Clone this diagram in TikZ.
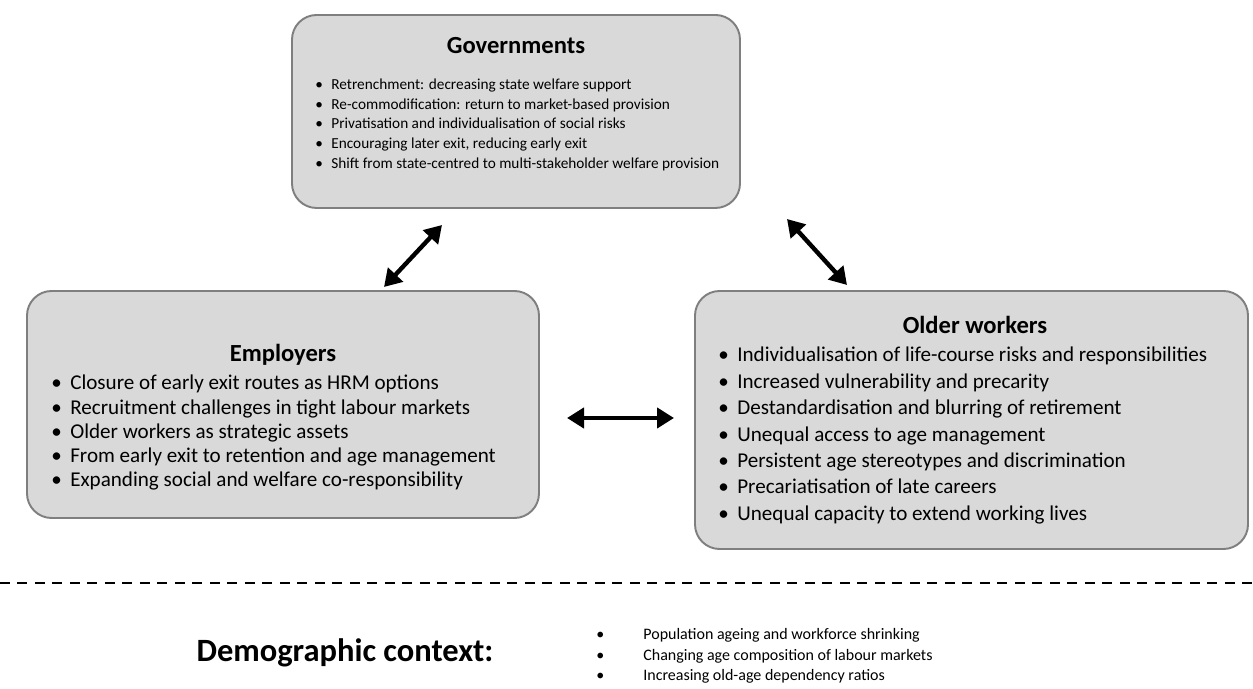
\documentclass[tikz,border=0pt]{standalone}
\usepackage{fontspec}
\setmainfont{Carlito}
\usetikzlibrary{arrows.meta}
\definecolor{PanelFill}{HTML}{D9D9D9}
\definecolor{PanelEdge}{HTML}{7F7F7F}
\newcommand{\bul}[1][1.05em]{\makebox[#1][l]{\textbullet}}
\tikzset{
    panel/.style={rectangle, rounded corners=14pt, fill=PanelFill,
                  draw=PanelEdge, line width=1.1pt},
    paneltitle/.style={anchor=base, inner sep=0pt,
                       font=\fontsize{14}{17}\selectfont\bfseries},
    panellist/.style={anchor=base west, inner sep=0pt},
    twoway/.style={{Triangle[length=3.4mm,width=4mm]}-{Triangle[length=3.4mm,width=4mm]},
                   line width=2.5pt}
}

\begin{document}
\begin{tikzpicture}
    \useasboundingbox (0,0) rectangle (25.06,13.78);

    % Three actor panels
    \node[panel, minimum width=8.96cm, minimum height=3.86cm] (gov) at (10.32,11.55) {};
    \node[panel, minimum width=10.24cm, minimum height=4.54cm] (emp) at (5.66,5.69) {};
    \node[panel, minimum width=11.06cm, minimum height=5.16cm] (old) at (19.43,5.38) {};

    % Governments
    \node[paneltitle] (govtitle) at (10.32,12.70) {Governments};
    \node[panellist, font=\fontsize{8.7}{11.1}\selectfont] (govlist) at (6.30,11.98) {%
        \begin{tabular}[t]{@{}l@{}}
            \bul Retrenchment: decreasing state welfare support\\
            \bul Re-commodification: return to market-based provision\\
            \bul Privatisation and individualisation of social risks\\
            \bul Encouraging later exit, reducing early exit\\
            \bul Shift from state-centred to multi-stakeholder welfare provision
        \end{tabular}};

    % Employers
    \node[paneltitle] (emptitle) at (5.66,6.54) {Employers};
    \node[panellist, font=\fontsize{12}{13.7}\selectfont] (emplist) at (1.02,5.98) {%
        \begin{tabular}[t]{@{}l@{}}
            \bul[0.9em]Closure of early exit routes as HRM options\\
            \bul[0.9em]Recruitment challenges in tight labour markets\\
            \bul[0.9em]Older workers as strategic assets\\
            \bul[0.9em]From early exit to retention and age management\\
            \bul[0.9em]Expanding social and welfare co-responsibility
        \end{tabular}};

    % Older workers
    \node[paneltitle] (oldtitle) at (19.50,7.10) {Older workers};
    \node[panellist, font=\fontsize{12}{15}\selectfont] (oldlist) at (14.36,6.54) {%
        \begin{tabular}[t]{@{}l@{}}
            \bul[0.9em]Individualisation of life-course risks and responsibilities\\
            \bul[0.9em]Increased vulnerability and precarity\\
            \bul[0.9em]Destandardisation and blurring of retirement\\
            \bul[0.9em]Unequal access to age management\\
            \bul[0.9em]Persistent age stereotypes and discrimination\\
            \bul[0.9em]Precariatisation of late careers\\
            \bul[0.9em]Unequal capacity to extend working lives
        \end{tabular}};

    % Two-way links between the actors
    \coordinate (empUp) at (7.68,8.04);
    \coordinate (govDownL) at (8.84,9.28);
    \coordinate (govDownR) at (15.74,9.40);
    \coordinate (oldUp) at (16.94,8.08);
    \coordinate (empRight) at (11.34,5.42);
    \coordinate (oldLeft) at (13.48,5.42);
    \draw[twoway] (empUp) -- (govDownL);
    \draw[twoway] (govDownR) -- (oldUp);
    \draw[twoway] (empRight) -- (oldLeft);

    % Separator
    \draw[line width=1.1pt, dash pattern=on 0.2cm off 0.15cm] (0,2.12) -- (25.06,2.12);

    % Demographic context
    \node[anchor=base, inner sep=0pt, font=\fontsize{18.5}{22}\selectfont\bfseries]
        (demo) at (6.90,0.54) {Demographic context:};
    \node[panellist, font=\fontsize{9.1}{11.4}\selectfont] (demolist) at (11.92,0.98) {%
        \begin{tabular}[t]{@{}l@{}}
            \bul[0.94cm]Population ageing and workforce shrinking\\
            \bul[0.94cm]Changing age composition of labour markets\\
            \bul[0.94cm]Increasing old-age dependency ratios
        \end{tabular}};
\end{tikzpicture}
\end{document}
